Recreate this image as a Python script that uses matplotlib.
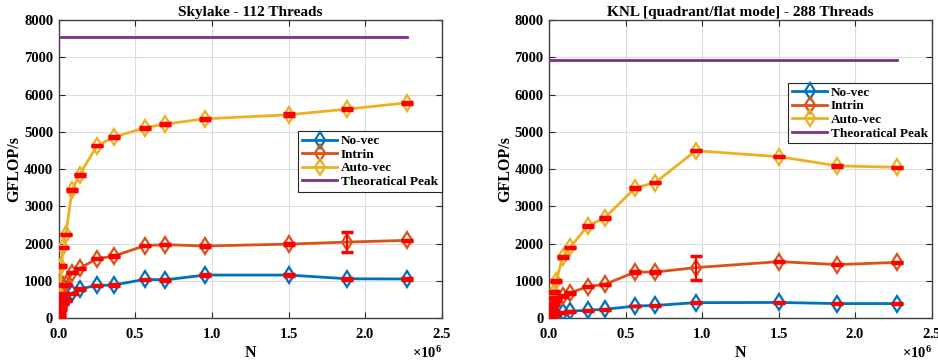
import matplotlib
matplotlib.use("Agg")
import matplotlib.pyplot as plt
import numpy as np
from matplotlib.ticker import ScalarFormatter

plt.rcParams['font.family'] = ['Liberation Serif', 'DejaVu Serif']
plt.rcParams['font.weight'] = 'bold'
plt.rcParams['mathtext.fontset'] = 'custom'
plt.rcParams['mathtext.rm'] = 'Liberation Serif:bold'
plt.rcParams['mathtext.bf'] = 'Liberation Serif:bold'

# ---- data ----
N = [1e3, 8e3, 1.6e4, 3.0e4, 4.6e4, 8.7e4, 1.36e5, 2.5e5, 3.62e5, 5.62e5,
     6.93e5, 9.57e5, 1.502e6, 1.883e6, 2.272e6]

sky_novec = [20, 120, 250, 400, 490, 670, 790, 880, 895, 1045, 1030, 1160, 1160, 1060, 1055]
sky_intrin = [40, 350, 610, 890, 910, 1225, 1340, 1600, 1670, 1950, 1975, 1940, 1990, 2045, 2090]
sky_auto = [50, 620, 1400, 1900, 2250, 3440, 3850, 4630, 4860, 5110, 5210, 5350, 5460, 5610, 5780]
sky_novec_err = [10, 20, 30, 20, 20, 20, 20, 20, 20, 20, 20, 20, 20, 20, 20]
sky_intrin_err = [10, 320, 30, 20, 20, 20, 20, 20, 20, 20, 20, 20, 20, 280, 20]
sky_auto_err = [10, 20, 20, 20, 20, 20, 20, 20, 20, 20, 20, 20, 40, 20, 20]
sky_peak = 7550

knl_novec = [5, 30, 60, 90, 120, 160, 190, 215, 240, 330, 345, 420, 425, 395, 395]
knl_intrin = [20, 120, 270, 380, 480, 600, 680, 850, 910, 1240, 1240, 1360, 1520, 1440, 1500]
knl_auto = [30, 250, 540, 700, 1000, 1640, 1900, 2475, 2690, 3500, 3640, 4495, 4335, 4090, 4050]
knl_novec_err = [5, 10, 10, 10, 10, 10, 10, 10, 10, 10, 10, 10, 10, 10, 10]
knl_intrin_err = [10, 20, 20, 20, 20, 20, 20, 20, 20, 20, 20, 320, 20, 20, 20]
knl_auto_err = [10, 20, 20, 20, 20, 20, 20, 20, 20, 20, 20, 20, 20, 20, 20]
knl_peak = 6935

titles = ["Skylake - 112 Threads", "KNL [quadrant/flat mode] - 288 Threads"]
labels = ["No-vec", "Intrin", "Auto-vec", "Theoratical Peak"]
colors = ["#0072BD", "#D95319", "#EDB120", "#7E2F8E"]

fig = plt.figure(figsize=(9.38, 3.62), dpi=100)
axL = fig.add_axes([0.0626, 0.1207, 0.4083, 0.824])
axR = fig.add_axes([0.5856, 0.1207, 0.4077, 0.824])

datasets = [
    (axL, [sky_novec, sky_intrin, sky_auto], [sky_novec_err, sky_intrin_err, sky_auto_err], sky_peak, 0.628),
    (axR, [knl_novec, knl_intrin, knl_auto], [knl_novec_err, knl_intrin_err, knl_auto_err], knl_peak, 0.79),
]

for i, (ax, series, errs, peak, legy) in enumerate(datasets):
    handles = []
    for s, e, c, lab in zip(series, errs, colors[:3], labels[:3]):
        h, = ax.plot(N, s, color=c, lw=2, marker='d', ms=8, mfc='none',
                     mec=c, mew=1.6, label=lab, zorder=3)
        handles.append(h)
    for s, e in zip(series, errs):
        ax.errorbar(N, s, yerr=e, fmt='none', ecolor='red', elinewidth=1.5,
                    capsize=4, capthick=2.5, zorder=4)
    h, = ax.plot([0, N[-1]], [peak, peak], color=colors[3], lw=2, label=labels[3], zorder=3)
    handles.append(h)

    ax.set_xlim(0, 2.5e6)
    ax.set_ylim(0, 8000)
    ax.set_xticks([0, 0.5e6, 1e6, 1.5e6, 2e6, 2.5e6])
    ax.set_yticks(np.arange(0, 8001, 1000))
    fmt = ScalarFormatter(useMathText=True)
    fmt.set_powerlimits((0, 0))
    ax.xaxis.set_major_formatter(fmt)
    ax.xaxis.get_offset_text().set_fontsize(10.5)
    ax.grid(True, color='#dcdcdc', lw=0.8)
    ax.set_axisbelow(True)
    ax.tick_params(direction='in', top=True, right=True, labelsize=10.5,
                   color='#262626', length=4, width=0.8)
    ax.tick_params(axis='x', pad=6)
    ax.tick_params(axis='y', pad=4)
    for lab in ax.get_xticklabels() + ax.get_yticklabels():
        lab.set_fontweight('bold')
    for sp in ax.spines.values():
        sp.set_color('#404040')
        sp.set_linewidth(1.0)
    ax.set_title(titles[i], fontsize=11, fontweight='bold', pad=3)
    ax.set_xlabel("N", fontsize=11.5, fontweight='bold', labelpad=3)
    ax.set_ylabel("GFLOP/s", fontsize=11.5, fontweight='bold', labelpad=1)
    leg = ax.legend(handles=handles, loc='upper right', bbox_to_anchor=(1.0, legy),
                    fontsize=9.5, frameon=True, fancybox=False, framealpha=1,
                    edgecolor='#262626', handlelength=2.6, borderpad=0.3,
                    labelspacing=0.1, handletextpad=0.3, borderaxespad=0)
    leg.get_frame().set_linewidth(0.8)
    for t in leg.get_texts():
        t.set_fontweight('bold')

fig.savefig("out.png", dpi=100)
